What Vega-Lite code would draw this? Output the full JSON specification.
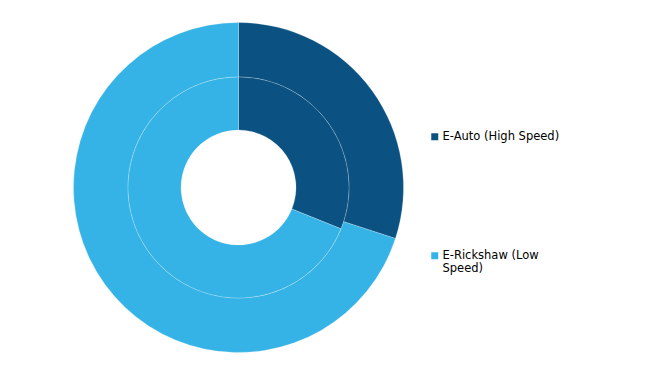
{
  "$schema": "https://vega.github.io/schema/vega-lite/v6.json",
  "width": 477,
  "height": 375,
  "autosize": "none",
  "padding": {"left": 0, "top": 0, "right": 182, "bottom": 0},
  "background": "#ffffff",
  "config": {"view": {"stroke": null}},
  "datasets": {
    "outer": [
      {"segment": "E-Auto (High Speed)", "share": 30.0},
      {"segment": "E-Rickshaw (Low Speed)", "share": 70.0}
    ],
    "inner": [
      {"segment": "E-Auto (High Speed)", "share": 31.1},
      {"segment": "E-Rickshaw (Low Speed)", "share": 68.9}
    ]
  },
  "layer": [
    {
      "data": {"name": "outer"},
      "mark": {"type": "arc", "radius": 165, "radius2": 110.5, "stroke": "#ffffff", "strokeWidth": 0.5, "strokeOpacity": 0.45},
      "encoding": {
        "theta": {"field": "share", "type": "quantitative", "stack": true},
        "color": {
          "field": "segment", "type": "nominal",
          "scale": {"domain": ["E-Auto (High Speed)", "E-Rickshaw (Low Speed)"], "range": ["#0b5282", "#35b3e6"]},
          "legend": {
            "title": null,
            "orient": "none",
            "legendX": 429,
            "legendY": 131,
            "symbolType": "square",
            "symbolSize": 49,
            "symbolStrokeWidth": 0,
            "labelFont": "DejaVu Sans",
            "labelFontSize": 11.5,
            "labelColor": "#000000",
            "labelOffset": 2,
            "rowPadding": 106,
            "labelLimit": 300,
            "labelExpr": "datum.label == 'E-Rickshaw (Low Speed)' ? ['E-Rickshaw (Low', 'Speed)'] : datum.label"
          }
        }
      }
    },
    {
      "data": {"name": "inner"},
      "mark": {"type": "arc", "radius": 110.5, "radius2": 57.5, "stroke": "#ffffff", "strokeWidth": 0.5, "strokeOpacity": 0.45},
      "encoding": {
        "theta": {"field": "share", "type": "quantitative", "stack": true},
        "color": {"field": "segment", "type": "nominal"}
      }
    }
  ]
}
